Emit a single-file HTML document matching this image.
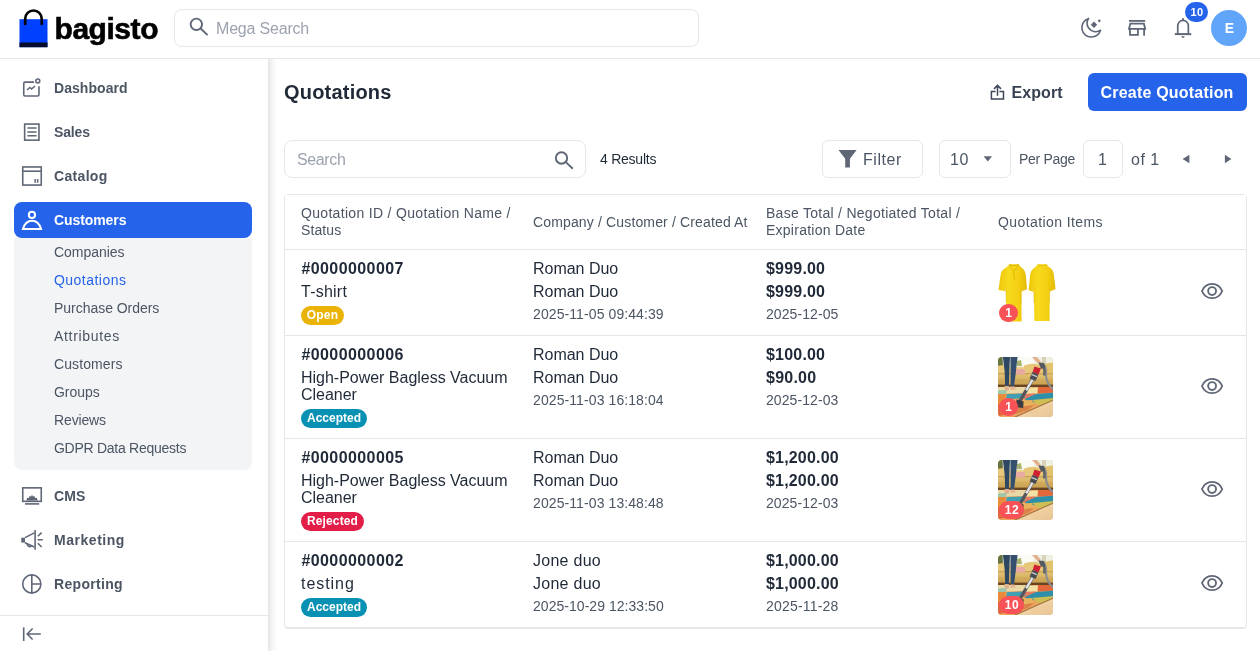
<!DOCTYPE html>
<html lang="en"><head><meta charset="utf-8"><title>Quotations</title><style>
*{box-sizing:border-box;margin:0;padding:0}
html,body{width:1260px;height:651px;overflow:hidden;background:#fff}
body{font-family:"Liberation Sans",sans-serif;position:relative;color:#1f2937}
.t{position:absolute;white-space:nowrap;line-height:20px;display:block}
.abs{position:absolute}
.box{position:absolute;border:1px solid #e5e7eb;border-radius:8px;background:#fff}
svg{position:absolute;overflow:visible}
.row{position:absolute;left:285px;width:961px;border-bottom:1px solid #e5e7eb}
.badge{position:absolute;height:19px;border-radius:10px}
.cnt{position:absolute;height:18.5px;border-radius:10px;background:#f85156}
</style></head><body>
<aside>
<div class="abs" style="left:0;top:30px;width:268px;height:621px;background:#fff;box-shadow:0px 8px 10px 0px rgba(0,0,0,0.2)"></div>
</aside>
<header>
<div class="abs" style="left:0;top:0;width:1260px;height:59px;border-bottom:1px solid #e5e7eb;background:#fff"></div>
<svg style="left:19px;top:8px" width="30" height="40" viewBox="0 0 30 40"><rect x="0.5" y="11.2" width="28" height="28" fill="#0041ff"/><rect x="0.5" y="34.5" width="28" height="4.7" fill="#060c2b"/><path d="M6.2 16 V10.7 a8.25 8.25 0 0 1 16.5 0 V16" fill="none" stroke="#000" stroke-width="2.6" stroke-linecap="round"/></svg>
<span class="t" style="left:54.5px;top:18.50px;font-size:30px;font-weight:700;color:#000;letter-spacing:-0.45px;-webkit-text-stroke:0.6px #000;">bagisto</span>
<div class="box" style="left:174px;top:9px;width:525px;height:38px"></div>
<svg style="left:186px;top:15px" width="24" height="24" viewBox="0 0 24 24"><circle cx="10.35" cy="9.35" r="5.7" fill="none" stroke="#5f6776" stroke-width="1.9"/><path d="M14.4 13.2 L21.6 20.1" stroke="#5f6776" stroke-width="1.9" stroke-linecap="butt"/></svg>
<span class="t" style="left:216px;top:18.50px;font-size:16px;font-weight:400;color:#9ca3af;letter-spacing:-0.190px;">Mega Search</span>
<svg style="left:1079px;top:16px" width="24" height="24" viewBox="0 0 24 24" fill="none" stroke="#5f6776" stroke-width="1.6"><path d="M9.6 2.4 C4.6 4 2.2 8.8 3 13.4 C3.9 18.2 8 21.2 12.4 21 C16.6 20.8 20.2 18 21.6 14.2 C17.6 17 12.2 15.6 9.6 12 C7.6 9.2 7.6 5.6 9.6 2.4 Z" stroke-linejoin="round"/><path d="M15 5.5 L18.2 8.7 L15 11.9 L11.8 8.7 Z" fill="#5f6776" stroke="none"/><path d="M20.3 3.2 L21.9 4.8 L20.3 6.4 L18.7 4.8 Z" fill="#5f6776" stroke="none"/></svg>
<svg style="left:1125px;top:16px" width="24" height="24" viewBox="0 0 24 24" fill="none" stroke="#5f6776" stroke-width="1.8"><path d="M4 4.9 H20.2"/><path d="M5.3 7.7 H18.9 L20.2 12.8 H4 Z" stroke-linejoin="miter"/><path d="M5 12.8 V18.9 H12.9 V12.8"/><path d="M19.1 12.8 V19.8"/></svg>
<svg style="left:1171px;top:16px" width="24" height="24" viewBox="0 0 24 24" fill="none" stroke="#5f6776" stroke-width="1.7"><path d="M6.75 17.9 V10 a5.3 5.6 0 0 1 10.6 0 V17.9"/><path d="M3.8 18.1 H20.2" stroke-width="2"/><path d="M10.2 20.3 H13.8 L12.9 21.7 H11.1 Z" fill="#5f6776" stroke="none"/><path d="M12 2.2 V4.6" stroke-width="2"/></svg>
<div class="abs" style="left:1185px;top:2px;width:23px;height:20px;border-radius:10px;background:#2563eb"></div>
<span class="t" style="left:1197px;top:2.00px;font-size:11px;font-weight:700;color:#fff;letter-spacing:0.445px;transform:translateX(-50%);">10</span>
<div class="abs" style="left:1211px;top:10px;width:36px;height:36px;border-radius:50%;background:#60a5fa"></div>
<span class="t" style="left:1229px;top:18.00px;font-size:14px;font-weight:700;color:#fff;letter-spacing:-0.816px;transform:translateX(-50%);">E</span>
</header>
<nav>
<div class="abs" style="left:14px;top:238px;width:238px;height:232px;background:#f3f4f6;border-radius:0 0 8px 8px"></div>
<div class="abs" style="left:14px;top:202px;width:238px;height:36px;background:#2563eb;border-radius:8px"></div>
<svg style="left:20px;top:76px" width="24" height="24" viewBox="0 0 24 24" fill="none" stroke="#5f6776" stroke-width="1.6"><path d="M14 6.15 H5 Q3.75 6.15 3.75 7.4 V18.7 Q3.75 19.95 5 19.95 H17.7 Q18.95 19.95 18.95 18.7 V10.2"/><circle cx="17.8" cy="5" r="1.95"/><path d="M7 14 L9.9 11.5 L11.6 13 L15 10"/></svg>
<span class="t" style="left:54px;top:78.00px;font-size:14px;font-weight:700;color:#4b5563;letter-spacing:0.053px;">Dashboard</span>
<svg style="left:20px;top:120px" width="24" height="24" viewBox="0 0 24 24" fill="none" stroke="#5f6776" stroke-width="1.6"><rect x="4.65" y="4.05" width="14.3" height="16.1"/><path d="M7.4 8.1 H16.6 M7.4 11.9 H16.6 M7.4 15.7 H16.6" stroke-width="1.5"/></svg>
<span class="t" style="left:54px;top:122.00px;font-size:14px;font-weight:700;color:#4b5563;letter-spacing:-0.150px;">Sales</span>
<svg style="left:20px;top:164px" width="24" height="24" viewBox="0 0 24 24" fill="none" stroke="#5f6776" stroke-width="1.6"><rect x="2.75" y="2.95" width="18.5" height="18.1"/><path d="M2.75 7.2 H21.25"/><path d="M15.15 15 V18.8 M17.65 15 V18.8" stroke-width="1.5"/></svg>
<span class="t" style="left:54px;top:166.00px;font-size:14px;font-weight:700;color:#4b5563;letter-spacing:0.325px;">Catalog</span>
<svg style="left:20px;top:208px" width="24" height="24" viewBox="0 0 24 24" fill="none" stroke="#fff" stroke-width="1.6"><circle cx="11.95" cy="6.9" r="3.1" stroke-width="2"/><path d="M2.9 21.1 H21.1 C19.6 16 16.4 12.8 12 12.8 C7.6 12.8 4.4 16 2.9 21.1 Z" stroke-width="2" stroke-linejoin="miter"/></svg>
<span class="t" style="left:54px;top:210.00px;font-size:14px;font-weight:700;color:#fff;letter-spacing:-0.088px;">Customers</span>
<svg style="left:20px;top:484px" width="24" height="24" viewBox="0 0 24 24" fill="none" stroke="#5f6776" stroke-width="1.6"><rect x="2.75" y="3.85" width="18.5" height="13.5"/><path d="M5 19.9 H19.2"/><path d="M6.3 16.4 L7.4 13.6 L8.8 14.2 L9.6 12 L11.2 12.4 L12 10.4 L12.8 12.4 L14.4 12 L15.2 14.2 L16.6 13.6 L17.8 16.4 Z" fill="#5f6776" stroke="none"/></svg>
<span class="t" style="left:54px;top:486.00px;font-size:14px;font-weight:700;color:#4b5563;letter-spacing:0.071px;">CMS</span>
<svg style="left:20px;top:528px" width="24" height="24" viewBox="0 0 24 24" fill="none" stroke="#5f6776" stroke-width="1.6"><rect x="1.3" y="9.7" width="3.7" height="4.9" fill="#5f6776" stroke="none"/><path d="M5 9.6 L14.4 4.9 M5 14.7 L14.4 19"/><path d="M15.1 2 V21.7"/><path d="M7.2 15.8 C7.4 18.4 9.6 19.4 11.6 17.8"/><path d="M17.6 11.8 H22.8 M17.8 8.3 L21.6 4.6 M17.8 15.3 L21.6 19"/></svg>
<span class="t" style="left:54px;top:530.00px;font-size:14px;font-weight:700;color:#4b5563;letter-spacing:0.532px;">Marketing</span>
<svg style="left:20px;top:572px" width="24" height="24" viewBox="0 0 24 24" fill="none" stroke="#5f6776" stroke-width="1.6"><circle cx="11.8" cy="12" r="9.1"/><path d="M11.8 2.9 V21.1 M11.8 12 H20.9"/></svg>
<span class="t" style="left:54px;top:574.00px;font-size:14px;font-weight:700;color:#4b5563;letter-spacing:0.321px;">Reporting</span>
<span class="t" style="left:54px;top:242.00px;font-size:14px;font-weight:400;color:#4b5563;letter-spacing:-0.044px;">Companies</span>
<span class="t" style="left:54px;top:270.00px;font-size:14px;font-weight:400;color:#2563eb;letter-spacing:0.471px;">Quotations</span>
<span class="t" style="left:54px;top:298.00px;font-size:14px;font-weight:400;color:#4b5563;letter-spacing:-0.032px;">Purchase Orders</span>
<span class="t" style="left:54px;top:326.00px;font-size:14px;font-weight:400;color:#4b5563;letter-spacing:0.678px;">Attributes</span>
<span class="t" style="left:54px;top:354.00px;font-size:14px;font-weight:400;color:#4b5563;letter-spacing:0.089px;">Customers</span>
<span class="t" style="left:54px;top:382.00px;font-size:14px;font-weight:400;color:#4b5563;letter-spacing:-0.043px;">Groups</span>
<span class="t" style="left:54px;top:410.00px;font-size:14px;font-weight:400;color:#4b5563;letter-spacing:-0.135px;">Reviews</span>
<span class="t" style="left:54px;top:438.00px;font-size:14px;font-weight:400;color:#4b5563;letter-spacing:-0.268px;">GDPR Data Requests</span>
<div class="abs" style="left:0;top:615px;width:268px;height:36px;background:#fff;border-top:1px solid #e5e7eb"></div>
<svg style="left:20px;top:622px" width="24" height="24" viewBox="0 0 24 24" fill="none" stroke="#5f6776" stroke-width="1.6"><path d="M3.7 5.4 V19"/><path d="M20.8 12 H7.6 M12.6 6.5 L7.2 12 L12.6 17.5"/></svg>
</nav>
<main>
<span class="t" style="left:284px;top:82.00px;font-size:20px;font-weight:700;color:#1f2937;letter-spacing:0.199px;">Quotations</span>
<svg style="left:987px;top:82px" width="20" height="20" viewBox="0 0 20 20" fill="none" stroke="#3d4757" stroke-width="1.5"><path d="M8.5 9.5 H4.4 V17.1 H16.5 V9.5 H12.4"/><path d="M10.5 13.8 V3.6 M7 6.9 L10.5 3.4 L14 6.9"/></svg>
<span class="t" style="left:1011.5px;top:82.50px;font-size:16px;font-weight:700;color:#374151;letter-spacing:0.072px;">Export</span>
<div class="abs" style="left:1088px;top:73px;width:158.5px;height:37.5px;border-radius:6px;background:#2563eb"></div>
<span class="t" style="left:1100.5px;top:82.50px;font-size:16px;font-weight:700;color:#fff;letter-spacing:0.206px;">Create Quotation</span>
<div class="box" style="left:284px;top:140px;width:302px;height:38px"></div>
<span class="t" style="left:297px;top:149.50px;font-size:16px;font-weight:400;color:#9ca3af;letter-spacing:-0.381px;">Search</span>
<svg style="left:551px;top:147px" width="24" height="24" viewBox="0 0 24 24"><circle cx="10.5" cy="11" r="5.7" fill="none" stroke="#5f6776" stroke-width="1.9"/><path d="M14.55 14.85 L21.8 21.7" stroke="#5f6776" stroke-width="1.9"/></svg>
<span class="t" style="left:600px;top:149.00px;font-size:14px;font-weight:400;color:#1f2937;letter-spacing:-0.246px;">4 Results</span>
<div class="box" style="left:822px;top:140px;width:101px;height:38px;border-radius:6px"></div>
<svg style="left:835px;top:147px" width="24" height="24" viewBox="0 0 24 24"><path d="M3.5 3.1 H21.6 L14.9 11.8 V20.5 H10.2 V11.8 Z" fill="#5f6776"/></svg>
<span class="t" style="left:863px;top:149.50px;font-size:16px;font-weight:400;color:#4b5563;letter-spacing:0.532px;">Filter</span>
<div class="box" style="left:939px;top:140px;width:72px;height:38px;border-radius:6px"></div>
<span class="t" style="left:950px;top:149.50px;font-size:16px;font-weight:400;color:#4b5563;letter-spacing:0.537px;">10</span>
<svg style="left:982px;top:154px" width="12" height="10" viewBox="0 0 12 10"><path d="M1.6 2.2 H10 L5.8 7.6 Z" fill="#5f6776"/></svg>
<span class="t" style="left:1019px;top:149.00px;font-size:14px;font-weight:400;color:#4b5563;letter-spacing:-0.283px;">Per Page</span>
<div class="box" style="left:1083px;top:140px;width:40px;height:38px;border-radius:6px"></div>
<span class="t" style="left:1102.7px;top:149.50px;font-size:16px;font-weight:400;color:#4b5563;letter-spacing:0.260px;transform:translateX(-50%);">1</span>
<span class="t" style="left:1131px;top:149.50px;font-size:16px;font-weight:400;color:#4b5563;letter-spacing:0.490px;">of 1</span>
<svg style="left:1180px;top:153px" width="12" height="12" viewBox="0 0 12 12"><path d="M9.4 1.8 V10.2 L2.6 6 Z" fill="#5f6776"/></svg>
<svg style="left:1222px;top:153px" width="12" height="12" viewBox="0 0 12 12"><path d="M2.9 1.8 V10.2 L9.4 6 Z" fill="#5f6776"/></svg>
<div class="abs" style="left:284px;top:194px;width:963px;height:435px;border:1px solid #e5e7eb;border-radius:4px;background:#fff"></div>
<div class="row" style="top:195px;height:55px;background:#fff"></div>
<span class="t" style="left:301px;top:203.00px;font-size:14px;font-weight:400;color:#4b5563;letter-spacing:0.317px;">Quotation ID / Quotation Name /</span>
<span class="t" style="left:301px;top:220.00px;font-size:14px;font-weight:400;color:#4b5563;letter-spacing:0.094px;">Status</span>
<span class="t" style="left:533px;top:212.00px;font-size:14px;font-weight:400;color:#4b5563;letter-spacing:0.146px;">Company / Customer / Created At</span>
<span class="t" style="left:766px;top:203.00px;font-size:14px;font-weight:400;color:#4b5563;letter-spacing:0.278px;">Base Total / Negotiated Total /</span>
<span class="t" style="left:766px;top:220.00px;font-size:14px;font-weight:400;color:#4b5563;letter-spacing:0.249px;">Expiration Date</span>
<span class="t" style="left:998px;top:212.00px;font-size:14px;font-weight:400;color:#4b5563;letter-spacing:0.406px;">Quotation Items</span>
<div class="row" style="top:250px;height:86px"></div>
<span class="t" style="left:301.4px;top:258.50px;font-size:16px;font-weight:700;color:#1f2937;letter-spacing:0.419px;">#0000000007</span>
<span class="t" style="left:301px;top:281.50px;font-size:16px;font-weight:400;color:#1f2937;letter-spacing:0.238px;">T-shirt</span>
<div class="badge" style="left:301px;top:306px;width:43px;background:#eab308"></div>
<span class="t" style="left:322.5px;top:305.00px;font-size:12px;font-weight:700;color:#fff;letter-spacing:0.193px;transform:translateX(-50%);">Open</span>
<span class="t" style="left:533px;top:258.50px;font-size:16px;font-weight:400;color:#1f2937;letter-spacing:-0.024px;">Roman Duo</span>
<span class="t" style="left:533px;top:281.50px;font-size:16px;font-weight:400;color:#1f2937;letter-spacing:-0.024px;">Roman Duo</span>
<span class="t" style="left:533px;top:304.00px;font-size:14px;font-weight:400;color:#4b5563;letter-spacing:0.094px;">2025-11-05 09:44:39</span>
<span class="t" style="left:766px;top:258.50px;font-size:16px;font-weight:700;color:#1f2937;letter-spacing:0.197px;">$999.00</span>
<span class="t" style="left:766px;top:281.50px;font-size:16px;font-weight:700;color:#1f2937;letter-spacing:0.197px;">$999.00</span>
<span class="t" style="left:766px;top:304.00px;font-size:14px;font-weight:400;color:#4b5563;letter-spacing:0.079px;">2025-12-05</span>
<svg style="left:997px;top:263px" width="60" height="60" viewBox="0 0 60 60"><defs><linearGradient id="sg0a" x1="0" x2="1" y1="0" y2="0"><stop offset="0" stop-color="#eec70c"/><stop offset="0.35" stop-color="#f7da1c"/><stop offset="0.7" stop-color="#f3d012"/><stop offset="1" stop-color="#e2b904"/></linearGradient><filter id="sb0" x="-5%" y="-5%" width="110%" height="110%"><feGaussianBlur stdDeviation="0.45"/></filter></defs><g filter="url(#sb0)"><path d="M12.2 1.3 L21.8 1.3 C22.6 3 24 4.4 25.6 5.6 C27.6 7.2 28.4 9.6 28.8 12.4 L30 26.2 L24.8 28.6 L24.3 24.5 L24.6 58.4 L9.6 58.4 L8.9 24 L8.4 28.2 L1.5 27 L3.6 12 C4 9 5.4 7 7.6 5.6 C9.6 4.4 11.4 3 12.2 1.3 Z" fill="url(#sg0a)"/><path d="M40.6 1.3 L49.8 1.3 C50.4 2.8 51.8 4 53.4 5 C55.4 6.4 56.4 8.6 56.8 11.2 L58.5 26 L53 28.4 L52.6 24.5 L52.6 58 L37.4 58 L36.8 24.5 L36.4 29 L31.5 27.2 L33.2 11.6 C33.6 8.8 34.8 6.6 36.8 5.2 C38.6 4 40 2.8 40.6 1.3 Z" fill="url(#sg0a)"/><path d="M12.6 2 L16.6 8.4 L17.4 16.6 M21.4 2 L17.6 8.2" fill="none" stroke="#d9ae00" stroke-width="0.9" opacity="0.8"/><path d="M12.2 1.6 Q17 3.6 21.8 1.6" fill="none" stroke="#d1a700" stroke-width="0.9" opacity="0.8"/><path d="M40.8 1.8 Q45.2 3.4 49.6 1.8" fill="none" stroke="#d9ae00" stroke-width="0.8" opacity="0.7"/><path d="M8.9 24 L9.2 40 M24.3 24.5 L24.2 40 M36.8 24.5 L37 40 M52.6 24.5 L52.5 40" fill="none" stroke="#dcb200" stroke-width="0.8" opacity="0.6"/></g></svg>
<div class="cnt" style="left:999px;top:303.5px;width:19px"></div>
<span class="t" style="left:1008.7px;top:303.00px;font-size:12px;font-weight:700;color:#fff;letter-spacing:0.243px;transform:translateX(-50%);">1</span>
<svg style="left:1200px;top:279.0px" width="24" height="24" viewBox="0 0 24 24" fill="none" stroke="#5f6776" stroke-width="1.85"><path d="M1.95 12 C3.7 7.9 7.4 4.9 12.1 4.9 C16.8 4.9 20.5 7.9 22.25 12 C20.5 16.1 16.8 19.1 12.1 19.1 C7.4 19.1 3.7 16.1 1.95 12 Z"/><circle cx="12.1" cy="12" r="3.95"/></svg>
<div class="row" style="top:336px;height:103px"></div>
<span class="t" style="left:301.4px;top:344.50px;font-size:16px;font-weight:700;color:#1f2937;letter-spacing:0.419px;">#0000000006</span>
<span class="t" style="left:301px;top:367.50px;font-size:16px;font-weight:400;color:#1f2937;letter-spacing:-0.015px;">High-Power Bagless Vacuum</span>
<span class="t" style="left:301px;top:384.50px;font-size:16px;font-weight:400;color:#1f2937;letter-spacing:-0.019px;">Cleaner</span>
<div class="badge" style="left:301px;top:409px;width:66px;background:#0891b2"></div>
<span class="t" style="left:334.0px;top:408.00px;font-size:12px;font-weight:700;color:#fff;letter-spacing:-0.004px;transform:translateX(-50%);">Accepted</span>
<span class="t" style="left:533px;top:344.50px;font-size:16px;font-weight:400;color:#1f2937;letter-spacing:-0.024px;">Roman Duo</span>
<span class="t" style="left:533px;top:367.50px;font-size:16px;font-weight:400;color:#1f2937;letter-spacing:-0.024px;">Roman Duo</span>
<span class="t" style="left:533px;top:390.00px;font-size:14px;font-weight:400;color:#4b5563;letter-spacing:0.094px;">2025-11-03 16:18:04</span>
<span class="t" style="left:766px;top:344.50px;font-size:16px;font-weight:700;color:#1f2937;letter-spacing:0.197px;">$100.00</span>
<span class="t" style="left:766px;top:367.50px;font-size:16px;font-weight:700;color:#1f2937;letter-spacing:0.241px;">$90.00</span>
<span class="t" style="left:766px;top:390.00px;font-size:14px;font-weight:400;color:#4b5563;letter-spacing:0.079px;">2025-12-03</span>
<svg style="left:998px;top:357px" width="55" height="60" viewBox="0 0 55 60"><defs><clipPath id="vc1"><rect width="55" height="60" rx="4" ry="4"/></clipPath><filter id="vb1" x="-10%" y="-10%" width="120%" height="120%"><feGaussianBlur stdDeviation="0.7"/></filter><linearGradient id="vf1" x1="0" x2="1" y1="0" y2="1"><stop offset="0" stop-color="#c08547"/><stop offset="0.55" stop-color="#efd2a6"/><stop offset="1" stop-color="#e6bf8e"/></linearGradient><linearGradient id="vs1" x1="0" x2="0" y1="0" y2="1"><stop offset="0" stop-color="#ecd38c"/><stop offset="0.55" stop-color="#dcb96a"/><stop offset="1" stop-color="#c29a52"/></linearGradient></defs><g clip-path="url(#vc1)"><rect width="55" height="60" fill="#d9b670"/><g filter="url(#vb1)"><rect x="-2" y="-2" width="59" height="12" fill="#eef0e2"/><rect x="20" y="-2" width="16" height="11" fill="#fbfbf6"/><rect x="44" y="-2" width="4" height="9" fill="#d8d2b8"/><path d="M-1 -1 L4.5 -1 L5 10 L-1 11 Z" fill="#66743f"/><path d="M19 4 L23 3 L24 9 L19 9 Z" fill="#a9b36f"/><rect x="-2" y="10" width="59" height="19" fill="url(#vs1)"/><path d="M-2 9 L6 8 L6 13 L-2 13 Z" fill="#e7c878"/><path d="M26 8.5 Q34 5.5 42 8 L42 13 L26 13 Z" fill="#e6c777"/><path d="M44 8 Q50 5 56 5.5 L56 16 L44 16 Z" fill="#e3c26e"/><rect x="-2" y="16" width="59" height="1.4" fill="#c39a4c" opacity="0.7"/><rect x="18" y="12" width="9" height="5.5" rx="1.5" fill="#e9aaa4"/><rect x="-2" y="22" width="59" height="6" fill="#cfa555" opacity="0.6"/><rect x="-2" y="27.6" width="59" height="2.6" fill="#6b4423"/><path d="M-2 30 L57 30 L57 42 L18 60 L-2 60 Z" fill="#eaa55e"/><path d="M-2 30 L28 30 L25 36 L-2 37 Z" fill="#ead9a6"/><path d="M-2 33.5 L9 33 L8 37 L-2 37.5 Z" fill="#9cc7ad"/><path d="M27 31 L40 30.5 L39 36.5 L26 37 Z" fill="#f1e2a6"/><path d="M40 30 L57 30 L57 35.5 L40 36.5 Z" fill="#e2683a"/><path d="M24 37 L38 36.5 L40 41 L26 42.5 Z" fill="#e27a62"/><path d="M9 37 L25 36.6 L27 41 L8 42.5 Z" fill="#3f9fb3"/><path d="M38 37 L57 35.5 L57 42 L30 46 L27 42 Z" fill="#2f8fa8"/><path d="M-2 37 L8 37 L6 46 L-2 47 Z" fill="#ea8a3a"/><path d="M34 43 L56 41 L57 45 L40 48 Z" fill="#cdbf52"/><path d="M12 44 L34 43 L36 48 L14 51 Z" fill="#e7b25a"/><path d="M-2 47 L14 46 L20 54 L-2 60 Z" fill="#e06a3c"/><path d="M14 51 L36 48 L30 53 L18 57 Z" fill="#d9824a"/><path d="M57 42.5 L57 62 L14 62 Z" fill="url(#vf1)"/><path d="M30 55 L56 47 L56 50 L36 58 Z" fill="#f0cb9a" opacity="0.8"/><path d="M57 42.2 L16 60.5" stroke="#8a5a30" stroke-width="1.1" opacity="0.7"/><path d="M4.8 -1 L12 -1 L11.4 14 L10.8 29 L7.2 29 L6.6 14 Z" fill="#2f4763"/><path d="M12.4 -1 L19.6 -1 L18 14 L16 29.5 L12.6 29.5 L12.6 14 Z" fill="#34506e"/><path d="M6.6 29 L11 29 L10.8 33.4 L6.8 33.6 Z" fill="#dfae8c"/><path d="M12.4 29.4 L16.4 29.4 L17.8 32.6 L12.4 33 Z" fill="#e4b493"/><path d="M33 -1 L38 -1 L43 5 L40.5 7 Z" fill="#e3b08d"/><path d="M44 6.5 C47.5 7.5 48.5 12 48 18 C48 24 51 29 56 33" fill="none" stroke="#8b8d90" stroke-width="2.2"/><path d="M43.5 7 C46 9 47 13 46.2 18.5" fill="none" stroke="#5d6066" stroke-width="2.4"/><path d="M40.5 5.5 L46 6 L47.2 10.5 L43 12 Z" fill="#55585e"/><path d="M38.5 16 L21.6 44.5" stroke="#55575d" stroke-width="3.4"/><path d="M37.6 17.6 L28.2 33.4" stroke="#e4e5e8" stroke-width="2.3"/><path d="M36.5 9.5 L43 11.5 L40.5 17.5 L34.6 15 Z" fill="#cf2233"/><path d="M34.4 15 L40.4 17.6 L37.6 24 L31.6 21.4 Z" fill="#4b4d54"/><path d="M33.4 17.4 L38.8 19.6" stroke="#c9cbd0" stroke-width="1.2"/><path d="M18.6 42.5 L25.6 44.6 L25.2 51 L17.4 50 Z" fill="#3a3b40"/></g></g></svg>
<div class="cnt" style="left:999px;top:397.5px;width:19px"></div>
<span class="t" style="left:1008.7px;top:397.00px;font-size:12px;font-weight:700;color:#fff;letter-spacing:0.243px;transform:translateX(-50%);">1</span>
<svg style="left:1200px;top:373.5px" width="24" height="24" viewBox="0 0 24 24" fill="none" stroke="#5f6776" stroke-width="1.85"><path d="M1.95 12 C3.7 7.9 7.4 4.9 12.1 4.9 C16.8 4.9 20.5 7.9 22.25 12 C20.5 16.1 16.8 19.1 12.1 19.1 C7.4 19.1 3.7 16.1 1.95 12 Z"/><circle cx="12.1" cy="12" r="3.95"/></svg>
<div class="row" style="top:439px;height:103px"></div>
<span class="t" style="left:301.4px;top:447.50px;font-size:16px;font-weight:700;color:#1f2937;letter-spacing:0.419px;">#0000000005</span>
<span class="t" style="left:301px;top:470.50px;font-size:16px;font-weight:400;color:#1f2937;letter-spacing:-0.015px;">High-Power Bagless Vacuum</span>
<span class="t" style="left:301px;top:487.50px;font-size:16px;font-weight:400;color:#1f2937;letter-spacing:-0.019px;">Cleaner</span>
<div class="badge" style="left:301px;top:512px;width:63px;background:#e11d48"></div>
<span class="t" style="left:332.5px;top:511.00px;font-size:12px;font-weight:700;color:#fff;letter-spacing:0.121px;transform:translateX(-50%);">Rejected</span>
<span class="t" style="left:533px;top:447.50px;font-size:16px;font-weight:400;color:#1f2937;letter-spacing:-0.024px;">Roman Duo</span>
<span class="t" style="left:533px;top:470.50px;font-size:16px;font-weight:400;color:#1f2937;letter-spacing:-0.024px;">Roman Duo</span>
<span class="t" style="left:533px;top:493.00px;font-size:14px;font-weight:400;color:#4b5563;letter-spacing:0.094px;">2025-11-03 13:48:48</span>
<span class="t" style="left:766px;top:447.50px;font-size:16px;font-weight:700;color:#1f2937;letter-spacing:0.178px;">$1,200.00</span>
<span class="t" style="left:766px;top:470.50px;font-size:16px;font-weight:700;color:#1f2937;letter-spacing:0.178px;">$1,200.00</span>
<span class="t" style="left:766px;top:493.00px;font-size:14px;font-weight:400;color:#4b5563;letter-spacing:0.079px;">2025-12-03</span>
<svg style="left:998px;top:460px" width="55" height="60" viewBox="0 0 55 60"><defs><clipPath id="vc2"><rect width="55" height="60" rx="4" ry="4"/></clipPath><filter id="vb2" x="-10%" y="-10%" width="120%" height="120%"><feGaussianBlur stdDeviation="0.7"/></filter><linearGradient id="vf2" x1="0" x2="1" y1="0" y2="1"><stop offset="0" stop-color="#c08547"/><stop offset="0.55" stop-color="#efd2a6"/><stop offset="1" stop-color="#e6bf8e"/></linearGradient><linearGradient id="vs2" x1="0" x2="0" y1="0" y2="1"><stop offset="0" stop-color="#ecd38c"/><stop offset="0.55" stop-color="#dcb96a"/><stop offset="1" stop-color="#c29a52"/></linearGradient></defs><g clip-path="url(#vc2)"><rect width="55" height="60" fill="#d9b670"/><g filter="url(#vb2)"><rect x="-2" y="-2" width="59" height="12" fill="#eef0e2"/><rect x="20" y="-2" width="16" height="11" fill="#fbfbf6"/><rect x="44" y="-2" width="4" height="9" fill="#d8d2b8"/><path d="M-1 -1 L4.5 -1 L5 10 L-1 11 Z" fill="#66743f"/><path d="M19 4 L23 3 L24 9 L19 9 Z" fill="#a9b36f"/><rect x="-2" y="10" width="59" height="19" fill="url(#vs2)"/><path d="M-2 9 L6 8 L6 13 L-2 13 Z" fill="#e7c878"/><path d="M26 8.5 Q34 5.5 42 8 L42 13 L26 13 Z" fill="#e6c777"/><path d="M44 8 Q50 5 56 5.5 L56 16 L44 16 Z" fill="#e3c26e"/><rect x="-2" y="16" width="59" height="1.4" fill="#c39a4c" opacity="0.7"/><rect x="18" y="12" width="9" height="5.5" rx="1.5" fill="#e9aaa4"/><rect x="-2" y="22" width="59" height="6" fill="#cfa555" opacity="0.6"/><rect x="-2" y="27.6" width="59" height="2.6" fill="#6b4423"/><path d="M-2 30 L57 30 L57 42 L18 60 L-2 60 Z" fill="#eaa55e"/><path d="M-2 30 L28 30 L25 36 L-2 37 Z" fill="#ead9a6"/><path d="M-2 33.5 L9 33 L8 37 L-2 37.5 Z" fill="#9cc7ad"/><path d="M27 31 L40 30.5 L39 36.5 L26 37 Z" fill="#f1e2a6"/><path d="M40 30 L57 30 L57 35.5 L40 36.5 Z" fill="#e2683a"/><path d="M24 37 L38 36.5 L40 41 L26 42.5 Z" fill="#e27a62"/><path d="M9 37 L25 36.6 L27 41 L8 42.5 Z" fill="#3f9fb3"/><path d="M38 37 L57 35.5 L57 42 L30 46 L27 42 Z" fill="#2f8fa8"/><path d="M-2 37 L8 37 L6 46 L-2 47 Z" fill="#ea8a3a"/><path d="M34 43 L56 41 L57 45 L40 48 Z" fill="#cdbf52"/><path d="M12 44 L34 43 L36 48 L14 51 Z" fill="#e7b25a"/><path d="M-2 47 L14 46 L20 54 L-2 60 Z" fill="#e06a3c"/><path d="M14 51 L36 48 L30 53 L18 57 Z" fill="#d9824a"/><path d="M57 42.5 L57 62 L14 62 Z" fill="url(#vf2)"/><path d="M30 55 L56 47 L56 50 L36 58 Z" fill="#f0cb9a" opacity="0.8"/><path d="M57 42.2 L16 60.5" stroke="#8a5a30" stroke-width="1.1" opacity="0.7"/><path d="M4.8 -1 L12 -1 L11.4 14 L10.8 29 L7.2 29 L6.6 14 Z" fill="#2f4763"/><path d="M12.4 -1 L19.6 -1 L18 14 L16 29.5 L12.6 29.5 L12.6 14 Z" fill="#34506e"/><path d="M6.6 29 L11 29 L10.8 33.4 L6.8 33.6 Z" fill="#dfae8c"/><path d="M12.4 29.4 L16.4 29.4 L17.8 32.6 L12.4 33 Z" fill="#e4b493"/><path d="M33 -1 L38 -1 L43 5 L40.5 7 Z" fill="#e3b08d"/><path d="M44 6.5 C47.5 7.5 48.5 12 48 18 C48 24 51 29 56 33" fill="none" stroke="#8b8d90" stroke-width="2.2"/><path d="M43.5 7 C46 9 47 13 46.2 18.5" fill="none" stroke="#5d6066" stroke-width="2.4"/><path d="M40.5 5.5 L46 6 L47.2 10.5 L43 12 Z" fill="#55585e"/><path d="M38.5 16 L21.6 44.5" stroke="#55575d" stroke-width="3.4"/><path d="M37.6 17.6 L28.2 33.4" stroke="#e4e5e8" stroke-width="2.3"/><path d="M36.5 9.5 L43 11.5 L40.5 17.5 L34.6 15 Z" fill="#cf2233"/><path d="M34.4 15 L40.4 17.6 L37.6 24 L31.6 21.4 Z" fill="#4b4d54"/><path d="M33.4 17.4 L38.8 19.6" stroke="#c9cbd0" stroke-width="1.2"/><path d="M18.6 42.5 L25.6 44.6 L25.2 51 L17.4 50 Z" fill="#3a3b40"/></g></g></svg>
<div class="cnt" style="left:999px;top:500.5px;width:25.4px"></div>
<span class="t" style="left:1011.9000000000001px;top:500.00px;font-size:12px;font-weight:700;color:#fff;letter-spacing:0.486px;transform:translateX(-50%);">12</span>
<svg style="left:1200px;top:476.5px" width="24" height="24" viewBox="0 0 24 24" fill="none" stroke="#5f6776" stroke-width="1.85"><path d="M1.95 12 C3.7 7.9 7.4 4.9 12.1 4.9 C16.8 4.9 20.5 7.9 22.25 12 C20.5 16.1 16.8 19.1 12.1 19.1 C7.4 19.1 3.7 16.1 1.95 12 Z"/><circle cx="12.1" cy="12" r="3.95"/></svg>
<div class="row" style="top:542px;height:86px"></div>
<span class="t" style="left:301.4px;top:550.50px;font-size:16px;font-weight:700;color:#1f2937;letter-spacing:0.419px;">#0000000002</span>
<span class="t" style="left:301px;top:573.50px;font-size:16px;font-weight:400;color:#1f2937;letter-spacing:0.947px;">testing</span>
<div class="badge" style="left:301px;top:598px;width:66px;background:#0891b2"></div>
<span class="t" style="left:334.0px;top:597.00px;font-size:12px;font-weight:700;color:#fff;letter-spacing:-0.004px;transform:translateX(-50%);">Accepted</span>
<span class="t" style="left:533px;top:550.50px;font-size:16px;font-weight:400;color:#1f2937;letter-spacing:0.270px;">Jone duo</span>
<span class="t" style="left:533px;top:573.50px;font-size:16px;font-weight:400;color:#1f2937;letter-spacing:0.270px;">Jone duo</span>
<span class="t" style="left:533px;top:596.00px;font-size:14px;font-weight:400;color:#4b5563;letter-spacing:0.037px;">2025-10-29 12:33:50</span>
<span class="t" style="left:766px;top:550.50px;font-size:16px;font-weight:700;color:#1f2937;letter-spacing:0.178px;">$1,000.00</span>
<span class="t" style="left:766px;top:573.50px;font-size:16px;font-weight:700;color:#1f2937;letter-spacing:0.178px;">$1,000.00</span>
<span class="t" style="left:766px;top:596.00px;font-size:14px;font-weight:400;color:#4b5563;letter-spacing:0.195px;">2025-11-28</span>
<svg style="left:998px;top:555px" width="55" height="60" viewBox="0 0 55 60"><defs><clipPath id="vc3"><rect width="55" height="60" rx="4" ry="4"/></clipPath><filter id="vb3" x="-10%" y="-10%" width="120%" height="120%"><feGaussianBlur stdDeviation="0.7"/></filter><linearGradient id="vf3" x1="0" x2="1" y1="0" y2="1"><stop offset="0" stop-color="#c08547"/><stop offset="0.55" stop-color="#efd2a6"/><stop offset="1" stop-color="#e6bf8e"/></linearGradient><linearGradient id="vs3" x1="0" x2="0" y1="0" y2="1"><stop offset="0" stop-color="#ecd38c"/><stop offset="0.55" stop-color="#dcb96a"/><stop offset="1" stop-color="#c29a52"/></linearGradient></defs><g clip-path="url(#vc3)"><rect width="55" height="60" fill="#d9b670"/><g filter="url(#vb3)"><rect x="-2" y="-2" width="59" height="12" fill="#eef0e2"/><rect x="20" y="-2" width="16" height="11" fill="#fbfbf6"/><rect x="44" y="-2" width="4" height="9" fill="#d8d2b8"/><path d="M-1 -1 L4.5 -1 L5 10 L-1 11 Z" fill="#66743f"/><path d="M19 4 L23 3 L24 9 L19 9 Z" fill="#a9b36f"/><rect x="-2" y="10" width="59" height="19" fill="url(#vs3)"/><path d="M-2 9 L6 8 L6 13 L-2 13 Z" fill="#e7c878"/><path d="M26 8.5 Q34 5.5 42 8 L42 13 L26 13 Z" fill="#e6c777"/><path d="M44 8 Q50 5 56 5.5 L56 16 L44 16 Z" fill="#e3c26e"/><rect x="-2" y="16" width="59" height="1.4" fill="#c39a4c" opacity="0.7"/><rect x="18" y="12" width="9" height="5.5" rx="1.5" fill="#e9aaa4"/><rect x="-2" y="22" width="59" height="6" fill="#cfa555" opacity="0.6"/><rect x="-2" y="27.6" width="59" height="2.6" fill="#6b4423"/><path d="M-2 30 L57 30 L57 42 L18 60 L-2 60 Z" fill="#eaa55e"/><path d="M-2 30 L28 30 L25 36 L-2 37 Z" fill="#ead9a6"/><path d="M-2 33.5 L9 33 L8 37 L-2 37.5 Z" fill="#9cc7ad"/><path d="M27 31 L40 30.5 L39 36.5 L26 37 Z" fill="#f1e2a6"/><path d="M40 30 L57 30 L57 35.5 L40 36.5 Z" fill="#e2683a"/><path d="M24 37 L38 36.5 L40 41 L26 42.5 Z" fill="#e27a62"/><path d="M9 37 L25 36.6 L27 41 L8 42.5 Z" fill="#3f9fb3"/><path d="M38 37 L57 35.5 L57 42 L30 46 L27 42 Z" fill="#2f8fa8"/><path d="M-2 37 L8 37 L6 46 L-2 47 Z" fill="#ea8a3a"/><path d="M34 43 L56 41 L57 45 L40 48 Z" fill="#cdbf52"/><path d="M12 44 L34 43 L36 48 L14 51 Z" fill="#e7b25a"/><path d="M-2 47 L14 46 L20 54 L-2 60 Z" fill="#e06a3c"/><path d="M14 51 L36 48 L30 53 L18 57 Z" fill="#d9824a"/><path d="M57 42.5 L57 62 L14 62 Z" fill="url(#vf3)"/><path d="M30 55 L56 47 L56 50 L36 58 Z" fill="#f0cb9a" opacity="0.8"/><path d="M57 42.2 L16 60.5" stroke="#8a5a30" stroke-width="1.1" opacity="0.7"/><path d="M4.8 -1 L12 -1 L11.4 14 L10.8 29 L7.2 29 L6.6 14 Z" fill="#2f4763"/><path d="M12.4 -1 L19.6 -1 L18 14 L16 29.5 L12.6 29.5 L12.6 14 Z" fill="#34506e"/><path d="M6.6 29 L11 29 L10.8 33.4 L6.8 33.6 Z" fill="#dfae8c"/><path d="M12.4 29.4 L16.4 29.4 L17.8 32.6 L12.4 33 Z" fill="#e4b493"/><path d="M33 -1 L38 -1 L43 5 L40.5 7 Z" fill="#e3b08d"/><path d="M44 6.5 C47.5 7.5 48.5 12 48 18 C48 24 51 29 56 33" fill="none" stroke="#8b8d90" stroke-width="2.2"/><path d="M43.5 7 C46 9 47 13 46.2 18.5" fill="none" stroke="#5d6066" stroke-width="2.4"/><path d="M40.5 5.5 L46 6 L47.2 10.5 L43 12 Z" fill="#55585e"/><path d="M38.5 16 L21.6 44.5" stroke="#55575d" stroke-width="3.4"/><path d="M37.6 17.6 L28.2 33.4" stroke="#e4e5e8" stroke-width="2.3"/><path d="M36.5 9.5 L43 11.5 L40.5 17.5 L34.6 15 Z" fill="#cf2233"/><path d="M34.4 15 L40.4 17.6 L37.6 24 L31.6 21.4 Z" fill="#4b4d54"/><path d="M33.4 17.4 L38.8 19.6" stroke="#c9cbd0" stroke-width="1.2"/><path d="M18.6 42.5 L25.6 44.6 L25.2 51 L17.4 50 Z" fill="#3a3b40"/></g></g></svg>
<div class="cnt" style="left:999px;top:595.5px;width:25.4px"></div>
<span class="t" style="left:1011.9000000000001px;top:595.00px;font-size:12px;font-weight:700;color:#fff;letter-spacing:0.486px;transform:translateX(-50%);">10</span>
<svg style="left:1200px;top:571.0px" width="24" height="24" viewBox="0 0 24 24" fill="none" stroke="#5f6776" stroke-width="1.85"><path d="M1.95 12 C3.7 7.9 7.4 4.9 12.1 4.9 C16.8 4.9 20.5 7.9 22.25 12 C20.5 16.1 16.8 19.1 12.1 19.1 C7.4 19.1 3.7 16.1 1.95 12 Z"/><circle cx="12.1" cy="12" r="3.95"/></svg>
</main>
</body></html>
